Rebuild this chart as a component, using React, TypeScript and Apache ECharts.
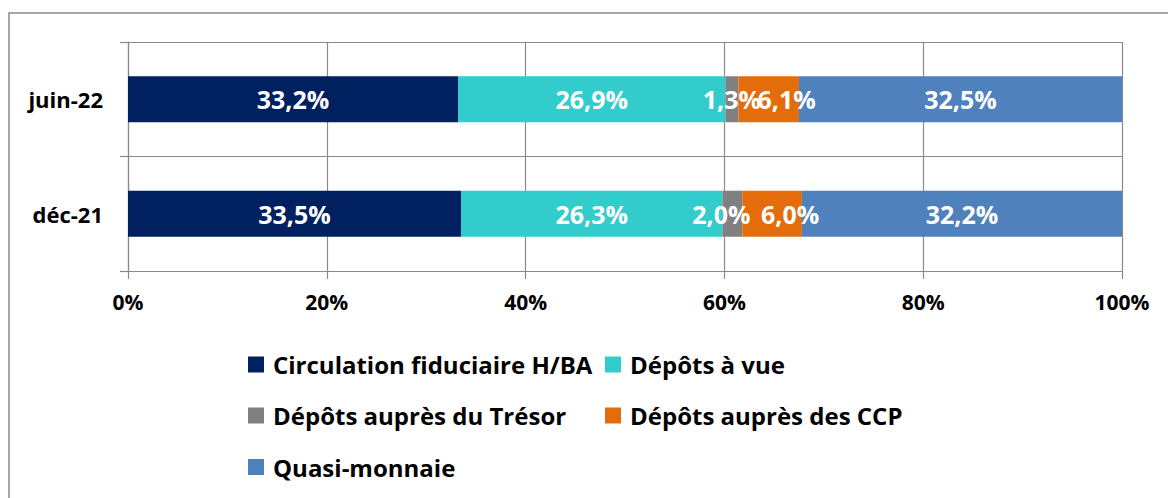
import React, { useEffect, useRef } from "react";
import * as echarts from "echarts";

const categories = ["déc-21", "juin-22"];
const seriesNames = [
  "Circulation fiduciaire H/BA",
  "Dépôts à vue",
  "Dépôts auprès du Trésor",
  "Dépôts auprès des CCP",
  "Quasi-monnaie",
];
const circulation = [33.5, 33.2];
const depotsVue = [26.3, 26.9];
const depotsTresor = [2.0, 1.3];
const depotsCCP = [6.0, 6.1];
const quasiMonnaie = [32.2, 32.5];
const xTicks = [0, 20, 40, 60, 80, 100];

const colors = ["#002060", "#33CCCC", "#808080", "#E46C0A", "#4F81BD"];
// label x offsets per series per category (layout only)
const labelOffsets = [
  [0, 0],
  [0, 0],
  [-11, 0],
  [18, 18],
  [0, 0],
];

const FONT = "Open Sans";

export default function App() {
  const ref = useRef<HTMLDivElement>(null);
  useEffect(() => {
    if (!ref.current) return;
    const chart = echarts.init(ref.current, undefined, { renderer: "svg" });
    const values = [circulation, depotsVue, depotsTresor, depotsCCP, quasiMonnaie];
    const series = seriesNames.map((name, si) => ({
      name,
      type: "bar",
      stack: "total",
      barWidth: 46,
      itemStyle: { color: colors[si] },
      label: {
        show: true,
        position: "inside",
        color: "#ffffff",
        fontFamily: FONT,
        fontWeight: "bold",
        fontSize: 25,
        formatter: (p: any) => p.value.toFixed(1).replace(".", ",") + "%",
      },
      data: values[si].map((v, ci) => ({
        value: v,
        label: { offset: [labelOffsets[si][ci], 0] },
      })),
    }));
    const legendPos = [
      { left: 248, top: 364.5 },
      { left: 605, top: 364.5 },
      { left: 248, top: 415.5 },
      { left: 605, top: 415.5 },
      { left: 248, top: 467 },
    ];
    const legends = seriesNames.map((name, i) => ({
      data: [name],
      left: legendPos[i].left,
      top: legendPos[i].top - 12,
      padding: 0,
      icon: "rect",
      itemWidth: 16,
      itemHeight: 16,
      textStyle: {
        fontFamily: FONT,
        fontWeight: "bold",
        fontSize: 24,
        color: "#000000",
        padding: [0, 0, 0, 4],
      },
      selectedMode: false,
    }));
    chart.setOption({
      animation: false,
      backgroundColor: "#ffffff",
      grid: { left: 128, top: 42, right: 46, bottom: 227, containLabel: false },
      xAxis: {
        type: "value",
        min: xTicks[0],
        max: xTicks[xTicks.length - 1],
        interval: 20,
        axisLine: { show: true, lineStyle: { color: "#8A8A8A", width: 1.2 } },
        axisTick: { show: true, length: 8, lineStyle: { color: "#8A8A8A", width: 1.2 } },
        splitLine: { show: true, lineStyle: { color: "#8A8A8A", width: 1.2 } },
        axisLabel: {
          margin: 20,
          color: "#000000",
          fontFamily: FONT,
          fontWeight: "bold",
          fontSize: 21,
          formatter: (v: number) => v + "%",
        },
      },
      yAxis: {
        type: "category",
        data: categories,
        axisLine: { show: true, lineStyle: { color: "#8A8A8A", width: 1.2 } },
        axisTick: { show: true, length: 8, lineStyle: { color: "#8A8A8A", width: 1.2 } },
        splitLine: { show: true, lineStyle: { color: "#8A8A8A", width: 1.2 } },
        axisLabel: {
          margin: 25,
          color: "#000000",
          fontFamily: FONT,
          fontWeight: "bold",
          fontSize: 22,
        },
      },
      legend: legends,
      graphic: [
        {
          type: "rect",
          shape: { x: 9, y: 13, width: 1400, height: 700 },
          style: { fill: "none", stroke: "#8A8A8A", lineWidth: 1.5 },
          silent: true,
        },
      ],
      series,
    });
    return () => chart.dispose();
  }, []);
  return (
    <div
      ref={ref}
      style={{ position: "absolute", left: 0, top: 0, width: 1168, height: 498 }}
    />
  );
}
